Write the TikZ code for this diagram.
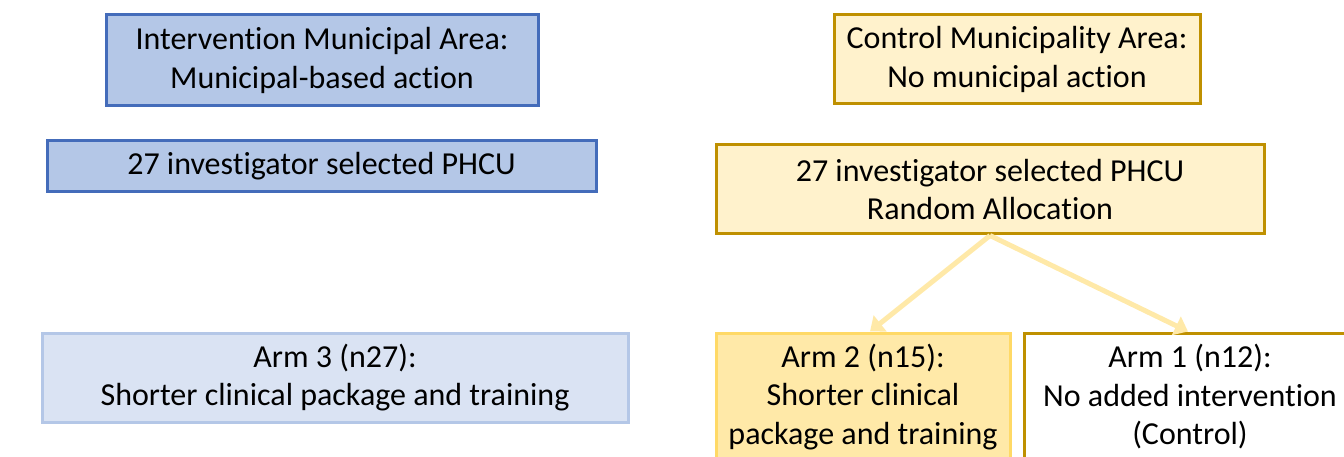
\documentclass[tikz,border=0pt]{standalone}
\usepackage{fontspec}
\setmainfont[Ligatures=NoCommon]{Carlito}
\usetikzlibrary{arrows.meta}
\definecolor{blueFill}{RGB}{180,199,231}
\definecolor{blueLine}{RGB}{68,108,186}
\definecolor{paleBlue}{RGB}{218,227,243}
\definecolor{goldFill}{RGB}{255,242,204}
\definecolor{goldLine}{RGB}{191,144,0}
\definecolor{sandFill}{RGB}{255,233,168}
\definecolor{sandLine}{RGB}{255,217,102}
\tikzset{every picture/.style={line width=0.75pt}}
\tikzset{
  box/.style={draw, rectangle, align=center, inner sep=0pt,
    font=\fontsize{32}{38.5}\selectfont, line width=3pt},
  municipal/.style={box, draw=blueLine, fill=blueFill},
  armthree/.style={box, draw=blueFill, fill=paleBlue},
  control/.style={box, draw=goldLine, fill=goldFill},
  armtwo/.style={box, draw=sandLine, fill=sandFill},
  armone/.style={box, draw=goldLine, fill=white},
  alloc arrow/.style={draw=sandFill, line width=5pt,
    -{Triangle[width=20pt,length=13pt]}}
}
\begin{document}
\begin{tikzpicture}[x=1pt,y=1pt,yscale=-1,xscale=1]
\useasboundingbox (0,0) rectangle (1344,457);
\clip (0,0) rectangle (1344,457);

%Shape: Rectangle [id:intervention]
\node [municipal, minimum width=432pt, minimum height=91pt] (interv) at (322,60.5)
  {Intervention Municipal Area:\\ Municipal-based action};
%Shape: Rectangle [id:leftpool]
\node [municipal, minimum width=549pt, minimum height=51pt] (leftpool) at (321.5,166.5)
  {27 investigator selected PHCU};
%Shape: Rectangle [id:armthree]
\node [armthree, minimum width=586pt, minimum height=89pt] (arm3) at (335,377.5)
  {Arm 3 (n27):\\ Shorter clinical package and training};

%Shape: Rectangle [id:control]
\node [control, minimum width=366pt, minimum height=89pt] (ctrl) at (1017,59.5)
  {Control Municipality Area:\\ No municipal action};
%Shape: Rectangle [id:rightpool]
\node [control, minimum width=548pt, minimum height=89pt] (alloc) at (990,189.5)
  {27 investigator selected PHCU\\ Random Allocation};
%Shape: Rectangle [id:armtwo]
\node [armtwo, minimum width=294pt, minimum height=128pt] (arm2) at (863,397)
  {Arm 2 (n15):\\ Shorter clinical\\ package and training};
%Shape: Rectangle [id:armone]
\node [armone, minimum width=332pt, minimum height=128pt] (arm1) at (1190,397)
  {Arm 1 (n12):\\ No added intervention\\ (Control)};

%Straight Lines [id:toarmtwo]
\draw [alloc arrow] (alloc.south) -- ([xshift=7pt]arm2.north);
%Straight Lines [id:toarmone]
\draw [alloc arrow] (alloc.south) -- ([xshift=-2pt]arm1.north);

\end{tikzpicture}
\end{document}
